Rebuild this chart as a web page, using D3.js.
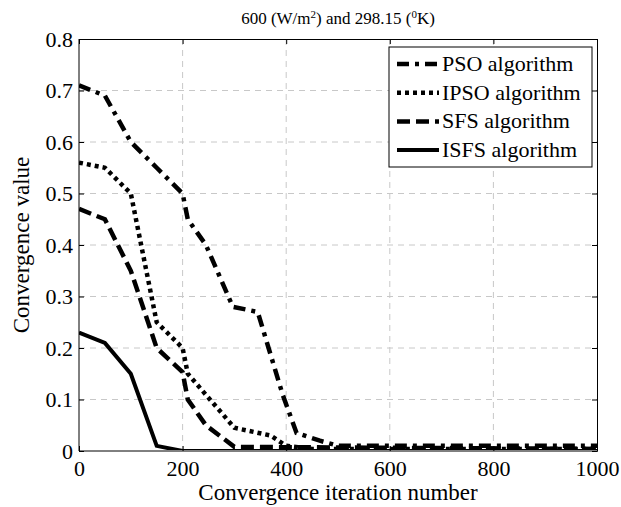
<!DOCTYPE html>
<html>
<head>
<meta charset="utf-8">
<script src="https://d3js.org/d3.v7.min.js"></script>
<style>
  body { margin: 0; background: #fff; }
</style>
</head>
<body>
<div id="chart"></div>
<script>
// iteration numbers (x) and convergence values for each algorithm
var psoX  = [0, 50, 100, 150, 200, 210, 245, 297, 345, 393, 420, 465, 500, 1000];
var psoY  = [0.71, 0.69, 0.60, 0.55, 0.50, 0.45, 0.40, 0.28, 0.27, 0.11, 0.035, 0.02, 0.01, 0.01];
var ipsoX = [0, 50, 100, 150, 200, 210, 300, 370, 400, 450, 1000];
var ipsoY = [0.56, 0.55, 0.50, 0.25, 0.20, 0.15, 0.045, 0.03, 0.01, 0.004, 0.004];
var sfsX  = [0, 50, 100, 150, 200, 210, 245, 300, 1000];
var sfsY  = [0.47, 0.45, 0.35, 0.20, 0.153, 0.10, 0.05, 0.008, 0.004];
var isfsX = [0, 50, 100, 150, 200, 1000];
var isfsY = [0.23, 0.21, 0.15, 0.01, 0, 0];

var xTicks = [0, 200, 400, 600, 800, 1000];
var yTicks = [0, 0.1, 0.2, 0.3, 0.4, 0.5, 0.6, 0.7, 0.8];
var seriesNames = ["PSO algorithm", "IPSO algorithm", "SFS algorithm", "ISFS algorithm"];

var FONT = "Liberation Serif";
var width = 621, height = 507;
var margin = { top: 39, right: 24, bottom: 56, left: 79 };
var iw = width - margin.left - margin.right;
var ih = height - margin.top - margin.bottom;

var svg = d3.select("#chart").append("svg")
  .attr("width", width).attr("height", height)
  .style("font-family", FONT);

var g = svg.append("g").attr("transform", "translate(" + margin.left + "," + margin.top + ")");

var x = d3.scaleLinear().domain([0, 1000]).range([0, iw]);
var y = d3.scaleLinear().domain([0, 0.8]).range([ih, 0]);

// grid
g.append("g").selectAll("line").data(xTicks.slice(1, -1)).enter().append("line")
  .attr("x1", d => x(d)).attr("x2", d => x(d)).attr("y1", 0).attr("y2", ih)
  .attr("stroke", "#c8c8c8").attr("stroke-width", 1).attr("stroke-dasharray", "6,5");
g.append("g").selectAll("line").data(yTicks.slice(1, -1)).enter().append("line")
  .attr("y1", d => y(d)).attr("y2", d => y(d)).attr("x1", 0).attr("x2", iw)
  .attr("stroke", "#c8c8c8").attr("stroke-width", 1).attr("stroke-dasharray", "6,5");

// styles for each series
var styles = [
  { dash: "12,6,4,6", w: 4.5 },
  { dash: "4,4", w: 4.5 },
  { dash: "13,6", w: 4.5 },
  { dash: null, w: 4 }
];
var data = [
  psoX.map((d, i) => [d, psoY[i]]),
  ipsoX.map((d, i) => [d, ipsoY[i]]),
  sfsX.map((d, i) => [d, sfsY[i]]),
  isfsX.map((d, i) => [d, isfsY[i]])
];

var line = d3.line().x(d => x(d[0])).y(d => y(d[1]));

g.append("defs").append("clipPath").attr("id", "clip")
  .append("rect").attr("x", 0).attr("y", -2).attr("width", iw).attr("height", ih + 1);

data.forEach(function(s, i) {
  g.append("path").datum(s)
    .attr("clip-path", "url(#clip)")
    .attr("d", line)
    .attr("fill", "none")
    .attr("stroke", "#000")
    .attr("stroke-width", styles[i].w)
    .attr("stroke-dasharray", styles[i].dash)
    .attr("stroke-linejoin", "miter");
});

// axes (MATLAB style box, ticks inward)
var xAxis = d3.axisBottom(x).tickValues(xTicks).tickSize(-5).tickPadding(9).tickFormat(d3.format("d"));
var yAxis = d3.axisLeft(y).tickValues(yTicks).tickSize(-5).tickPadding(6).tickFormat(d => d === 0 ? "0" : d3.format(".1f")(d));

var gx = g.append("g").attr("transform", "translate(0," + ih + ")").call(xAxis);
var gy = g.append("g").call(yAxis);
g.append("g").call(d3.axisTop(x).tickValues(xTicks).tickSize(-5).tickFormat(""));
g.append("g").attr("transform", "translate(" + iw + ",0)").call(d3.axisRight(y).tickValues(yTicks).tickSize(-5).tickFormat(""));

g.selectAll("g").attr("font-family", FONT);
g.selectAll(".domain").attr("stroke", "#000").attr("stroke-width", 1);
g.selectAll(".tick line").attr("stroke", "#000");
gx.selectAll("text").style("font-size", "22px").style("font-family", FONT);
gy.selectAll("text").style("font-size", "22px").style("font-family", FONT);
gx.select(".domain").attr("d", "M0,0H" + iw);
gy.select(".domain").attr("d", "M0,0V" + ih);

// title
var title = svg.append("text").attr("x", 338).attr("y", 24)
  .attr("text-anchor", "middle").style("font-size", "17px");
title.append("tspan").text("600 (W/m");
title.append("tspan").attr("dy", -6).style("font-size", "11px").text("2");
title.append("tspan").attr("dy", 6).text(") and 298.15 (");
title.append("tspan").attr("dy", -6).style("font-size", "11px").text("0");
title.append("tspan").attr("dy", 6).text("K)");

// axis labels
svg.append("text").attr("x", margin.left + iw / 2).attr("y", 500)
  .attr("text-anchor", "middle").style("font-size", "23px")
  .text("Convergence iteration number");
svg.append("text").attr("transform", "translate(29," + (margin.top + ih / 2) + ") rotate(-90)")
  .attr("text-anchor", "middle").style("font-size", "23px")
  .text("Convergence value");

// legend
var lg = svg.append("g").attr("transform", "translate(389,47)");
lg.append("rect").attr("width", 203).attr("height", 120)
  .attr("fill", "#fff").attr("stroke", "#000").attr("stroke-width", 1);
seriesNames.forEach(function(name, i) {
  var yy = 17 + i * 28.7;
  lg.append("line").attr("x1", 8).attr("x2", 50).attr("y1", yy).attr("y2", yy)
    .attr("stroke", "#000").attr("stroke-width", styles[i].w)
    .attr("stroke-dasharray", styles[i].dash);
  lg.append("text").attr("x", 53).attr("y", yy + 7).style("font-size", "22px").text(name);
});
</script>
</body>
</html>
